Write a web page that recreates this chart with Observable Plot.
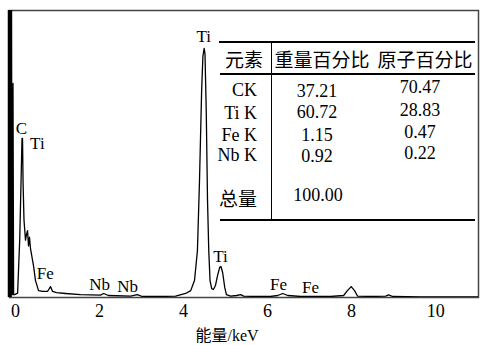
<!DOCTYPE html>
<html><head><meta charset="utf-8">
<script src="https://cdn.jsdelivr.net/npm/d3@7"></script>
<script src="https://cdn.jsdelivr.net/npm/@observablehq/plot@0.6"></script>
<style>
html,body{margin:0;padding:0;background:#fff;}
#wrap{position:relative;width:480px;height:345px;overflow:hidden;}
#wrap svg{display:block;}
.cell{position:absolute;white-space:nowrap;line-height:1;color:#000;}
.serif{font-family:"Liberation Serif","DejaVu Serif","Times New Roman",serif;font-size:18px;}
.cjk{font-family:"Noto Sans CJK SC",sans-serif;font-size:19px;}
.rule{position:absolute;background:#000;}
</style></head><body><div id="wrap"></div>
<script>
// EDS spectrum (energy in keV, relative counts)
const energy = [-0.14,-0.105,-0.095,-0.085,-0.07,-0.06,-0.045,-0.02,0.05,0.10,0.155,0.167,0.18,0.202,0.238,0.262,0.286,0.31,0.333,0.357,0.429,0.476,0.548,0.643,0.762,0.833,0.881,0.976,1.19,1.55,2.02,2.10,2.21,2.74,2.90,3.02,3.45,3.81,4.05,4.17,4.26,4.33,4.38,4.43,4.46,4.49,4.51,4.54,4.57,4.60,4.63,4.67,4.71,4.76,4.81,4.86,4.89,4.93,4.98,5.02,5.12,5.26,5.36,5.43,5.71,6.07,6.24,6.36,6.48,6.79,7.50,7.81,7.90,7.99,8.07,8.14,8.45,8.81,8.88,8.98,9.64,11.02];
const counts = [0.3,0.3,110,1,1,74.6,1,1,1.5,20,55.4,55.4,40,27,20,22,23.3,18,21,17,11,5.9,2.4,2.1,2.1,3.8,2.1,1.7,1.4,1.0,0.85,1.4,0.7,0.5,1.0,0.35,0.35,0.5,1.4,2.4,5.9,16.3,41,72,84,86.8,85,65,34,16.3,5.9,3.1,2.8,4.2,7.7,10.5,10.8,8.7,3.5,1.0,0.5,0.7,1.0,0.5,0.35,0.35,0.7,1.4,0.7,0.35,0.35,0.7,2.4,3.8,2.4,0.5,0.35,0.5,0.9,0.35,0.2,0.2];

// peak annotations
const peakNames = ["Ti","C","Ti","Fe","Nb","Nb","Ti","Fe","Fe"];
const peakE = [4.48,0.14,0.52,0.71,2.0,2.67,4.88,6.26,7.02];
const peakC = [90.9,58.9,53.7,8.4,4.5,3.8,14.3,4.5,3.5];

const xTicks = [0,2,4,6,8,10];
const xDomain = [-0.143, 11.02];
const yDomain = [0, 100];
const xLabel = "能量/keV";

// composition table
const tableHead = ["元素","重量百分比","原子百分比"];
const elements = ["CK","Ti K","Fe K","Nb K"];
const weightPct = ["37.21","60.72","1.15","0.92"];
const atomicPct = ["70.47","28.83","0.47","0.22"];
const totalLabel = "总量";
const totalWeight = "100.00";

const spectrum = energy.map((e,i)=>({e, c: counts[i]}));
const peaks = peakNames.map((n,i)=>({n, e: peakE[i], c: peakC[i]}));
const SERIF = '"Liberation Serif", "DejaVu Serif", "Times New Roman", serif';

const chart = Plot.plot({
  width: 480, height: 345,
  marginLeft: 9, marginRight: 2, marginTop: 10, marginBottom: 48,
  x: {domain: xDomain, ticks: xTicks, tickSize: 0, tickPadding: 7, label: null},
  y: {domain: yDomain, axis: null},
  style: {fontFamily: SERIF, fontSize: "18px", color: "#000", background: "#fff"},
  marks: [
    Plot.frame({stroke: "#444", strokeWidth: 1.5}),
    Plot.ruleX([xDomain[0]], {stroke: "#000", strokeWidth: 3.5}),
    Plot.line(spectrum, {x: "e", y: "c", stroke: "#000", strokeWidth: 1.3, clip: true}),
    Plot.text(peaks, {x: "e", y: "c", text: "n", fontSize: 17, fontFamily: SERIF, textAnchor: "middle", lineAnchor: "middle", fill: "#000"}),
    Plot.text([xLabel], {frameAnchor: "bottom", dx: -17, dy: 38, fontSize: 16, lineAnchor: "middle", fill: "#000",
      fontFamily: '"Liberation Serif", "DejaVu Serif", "Noto Sans CJK SC", serif'})
  ]
});
const wrap = document.getElementById("wrap");
wrap.appendChild(chart);

// table overlay (layout constants in px)
function cell(text, cls, x, y, align) {
  const d = document.createElement("div");
  d.className = "cell " + cls;
  d.textContent = text;
  d.style.left = x + "px";
  d.style.top = y + "px";
  d.style.transform = align === "right" ? "translate(-100%,-50%)" : "translate(-50%,-50%)";
  wrap.appendChild(d);
}
function rule(x, y, w, h) {
  const d = document.createElement("div");
  d.className = "rule";
  Object.assign(d.style, {left: x+"px", top: y+"px", width: w+"px", height: h+"px"});
  wrap.appendChild(d);
}
rule(219, 41, 256, 2);
rule(220, 73, 255, 2);
rule(220, 219, 255, 2);
rule(270.5, 42, 1.6, 178);
const headX = [244, 322, 425];
tableHead.forEach((t,i)=>cell(t, "cjk", headX[i], 58, "center"));
const rowY0 = [90, 113, 135, 155];
const rowY1 = [91, 112, 135, 156];
const rowY2 = [87, 110, 132, 153];
elements.forEach((t,i)=>cell(t, "serif", 257, rowY0[i], "right"));
weightPct.forEach((t,i)=>cell(t, "serif", 317, rowY1[i], "center"));
atomicPct.forEach((t,i)=>cell(t, "serif", 420, rowY2[i], "center"));
cell(totalLabel, "cjk", 238, 197, "center");
cell(totalWeight, "serif", 318, 195, "center");
</script></body></html>
